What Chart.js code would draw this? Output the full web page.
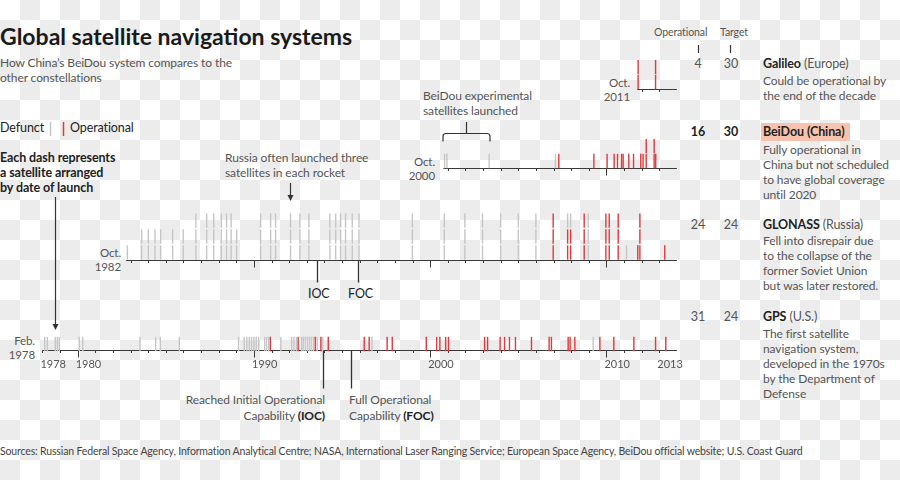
<!DOCTYPE html>
<html>
<head>
<meta charset="utf-8">
<script src="https://cdn.jsdelivr.net/npm/chart.js@4.4.1/dist/chart.umd.min.js"></script>
<style>
  html, body { margin: 0; padding: 0; }
  body {
    width: 900px; height: 480px; position: relative; overflow: hidden;
    font-family: Lato, "Open Sans", sans-serif; color: #555;
    background-color: #fff;
    background-image: conic-gradient(#ececec 25%, transparent 0 50%, #ececec 0 75%, transparent 0);
    background-size: 40px 40px;
  }
  .t { position: absolute; white-space: nowrap; font-size: 12px; line-height: 15px; letter-spacing: -0.1px; }
  .dark { color: #222; }
  .r { text-align: right; }
  .num { position: absolute; width: 30px; text-align: center; font-size: 12.5px; line-height: 15px; }
  canvas { position: absolute; left: 0; }
  svg { position: absolute; left: 0; top: 0; }
</style>
</head>
<body>

<div class="t dark" style="left:0;top:21px;font-size:23px;line-height:30px;font-weight:bold;color:#1a1a1a;letter-spacing:0">Global satellite navigation systems</div>
<div class="t" style="left:0;top:55px">How China’s BeiDou system compares to the<br>other constellations</div>

<div class="t dark" style="left:0;top:120px;font-size:12.5px">Defunct</div>
<div class="t dark" style="left:70px;top:120px;font-size:12.5px">Operational</div>

<div class="t dark" style="left:0;top:150px;font-weight:bold;font-size:12.5px">Each dash represents<br>a satellite arranged<br>by date of launch</div>
<div class="t" style="left:225px;top:150px">Russia often launched three<br>satellites in each rocket</div>
<div class="t" style="left:423px;top:88px">BeiDou experimental<br>satellites launched</div>

<div class="t r" style="right:865px;top:334px;font-size:11.5px;line-height:14px">Feb.<br>1978</div>
<div class="t r" style="right:779px;top:246px;font-size:11.5px;line-height:14px">Oct.<br>1982</div>
<div class="t r" style="right:465px;top:155px;font-size:11.5px;line-height:14px">Oct.<br>2000</div>
<div class="t r" style="right:270px;top:76px;font-size:11.5px;line-height:14px">Oct.<br>2011</div>

<div class="t dark" style="left:308px;top:286px;font-size:12.5px">IOC</div>
<div class="t dark" style="left:348px;top:286px;font-size:12.5px">FOC</div>
<div class="t r" style="right:575px;top:392px;line-height:15.5px">Reached Initial Operational<br>Capability <b class="dark">(IOC)</b></div>
<div class="t" style="left:349px;top:392px;line-height:15.5px">Full Operational<br>Capability <b class="dark">(FOC)</b></div>

<div class="t" style="left:654px;top:25px;font-size:10.5px">Operational</div>
<div class="t" style="left:720px;top:25px;font-size:10.5px">Target</div>

<div class="num" style="left:683px;top:56px">4</div>
<div class="num" style="left:716px;top:56px">30</div>
<div class="num dark" style="left:683px;top:124px;font-weight:bold">16</div>
<div class="num dark" style="left:716px;top:124px;font-weight:bold">30</div>
<div class="num" style="left:683px;top:217px">24</div>
<div class="num" style="left:716px;top:217px">24</div>
<div class="num" style="left:683px;top:309px">31</div>
<div class="num" style="left:716px;top:309px">24</div>

<div class="t" style="left:763px;top:56px;font-size:12.5px"><b class="dark">Galileo</b> (Europe)</div>
<div class="t" style="left:763px;top:73px">Could be operational by<br>the end of the decade</div>
<div class="t dark" style="left:761px;top:123px;width:89px;height:18px;background:#f7c3ae"></div>
<div class="t dark" style="left:763px;top:124px;font-weight:bold;font-size:12.5px">BeiDou (China)</div>
<div class="t" style="left:763px;top:142px">Fully operational in<br>China but not scheduled<br>to have global coverage<br>until 2020</div>
<div class="t" style="left:763px;top:217px;font-size:12.5px"><b class="dark">GLONASS</b> (Russia)</div>
<div class="t" style="left:763px;top:233px">Fell into disrepair due<br>to the collapse of the<br>former Soviet Union<br>but was later restored.</div>
<div class="t" style="left:763px;top:309px;font-size:12.5px"><b class="dark">GPS</b> (U.S.)</div>
<div class="t" style="left:763px;top:326px">The first satellite<br>navigation system,<br>developed in the 1970s<br>by the Department of<br>Defense</div>

<div class="t" style="left:0;top:444px;font-size:10.5px;letter-spacing:-0.15px;color:#444">Sources: Russian Federal Space Agency, Information Analytical Centre; NASA, International Laser Ranging Service; European Space Agency, BeiDou official website; U.S. Coast Guard</div>

<canvas id="galileo"></canvas>
<canvas id="beidou"></canvas>
<canvas id="glonass"></canvas>
<canvas id="gps"></canvas>

<svg width="900" height="480">
  <line x1="50.5" y1="122" x2="50.5" y2="136" stroke="#c6c6c6" stroke-width="1.5"/>
  <line x1="63.5" y1="122" x2="63.5" y2="136" stroke="#e0393e" stroke-width="1.5"/>
  <line x1="55.5" y1="197" x2="55.5" y2="326" stroke="#333" stroke-width="1.2"/>
  <path d="M52.5,324 L58.5,324 L55.5,330 Z" fill="#333"/>
  <line x1="290.5" y1="183" x2="290.5" y2="196" stroke="#333" stroke-width="1.2"/>
  <path d="M287.5,195 L293.5,195 L290.5,201 Z" fill="#333"/>
  <path d="M443,141.5 L443,136.5 Q443,133.5 446,133.5 L487,133.5 Q490,133.5 490,136.5 L490,141.5 M466.5,133.5 L466.5,122" fill="none" stroke="#333" stroke-width="1.2"/>
  <line x1="698.5" y1="45" x2="698.5" y2="53" stroke="#333" stroke-width="1.2"/>
  <line x1="730.5" y1="45" x2="730.5" y2="53" stroke="#333" stroke-width="1.2"/>
</svg>

<script>
// launch dates (decimal years), satellites per launch, satellites still operational
const gpsDates = [1978.13, 1978.28, 1978.73, 1978.85, 1978.96, 1980.09, 1980.29, 1983.54, 1984.43, 1984.69,
  1985.77, 1989.13, 1989.45, 1989.60, 1989.74, 1989.87, 1990.00, 1990.13, 1990.27, 1990.61,
  1990.72, 1990.84, 1990.93, 1991.53, 1992.14, 1992.27, 1992.42, 1992.51, 1992.71, 1992.80,
  1992.91, 1993.03, 1993.14, 1993.25, 1993.37, 1993.48, 1993.59, 1993.80, 1993.90, 1994.22,
  1996.26, 1996.54, 1996.70, 1997.56, 1997.85, 1999.78, 2000.37, 2000.55, 2000.88, 2001.04,
  2003.09, 2003.26, 2003.97, 2004.22, 2004.50, 2004.84, 2005.75, 2006.75, 2006.88, 2007.83,
  2007.94, 2008.21, 2009.25, 2009.63, 2010.42, 2011.56, 2012.79, 2013.37];
const gpsOper = [0, 0, 0, 0, 0, 0, 0, 0, 0, 0,
  0, 0, 0, 0, 0, 0, 0, 0, 0, 0,
  0, 0, 1, 0, 0, 0, 0, 1, 0, 0,
  0, 0, 0, 0, 0, 1, 0, 1, 0, 1,
  1, 1, 0, 1, 1, 1, 1, 1, 1, 1,
  1, 1, 1, 1, 1, 1, 1, 1, 1, 1,
  1, 1, 0, 1, 1, 1, 1, 1];

const glonassDates = [1982.82, 1983.63, 1984.01, 1984.39, 1984.71, 1985.39, 1985.99, 1986.71, 1987.32, 1987.72,
  1988.15, 1988.45, 1988.71, 1989.02, 1990.38, 1990.95, 1991.23, 1992.08, 1992.61, 1993.12,
  1994.31, 1994.64, 1994.92, 1995.20, 1995.58, 1995.96, 1998.99, 2000.80, 2001.97, 2002.97,
  2004.00, 2005.00, 2006.00, 2006.98, 2007.80, 2007.97, 2008.74, 2008.97, 2009.97, 2010.16,
  2010.67, 2011.14, 2011.78, 2011.90, 2013.31];
const glonassSats = [1, 2, 2, 2, 2, 2, 2, 3, 3, 3,
  3, 3, 3, 2, 3, 3, 3, 3, 3, 3,
  3, 3, 3, 3, 3, 3, 3, 3, 3, 3,
  3, 3, 3, 3, 3, 3, 3, 3, 3, 3,
  3, 1, 1, 3, 1];
const glonassOper = [0, 0, 0, 0, 0, 0, 0, 0, 0, 0,
  0, 0, 0, 0, 0, 0, 0, 0, 0, 0,
  0, 0, 0, 0, 0, 0, 0, 0, 0, 0,
  0, 0, 0, 3, 2, 2, 3, 0, 3, 3,
  3, 0, 1, 3, 1];

const beidouDates = [2000.82, 2000.95, 2003.35, 2007.11, 2007.30, 2009.29, 2010.04, 2010.44, 2010.63, 2010.86,
  2010.95, 2011.27, 2011.54, 2011.95, 2012.08, 2012.26, 2012.71, 2012.80];
const beidouSats = [1, 1, 1, 1, 1, 1, 1, 1, 1, 1, 1, 1, 1, 1, 1, 2, 2, 1];
const beidouOper = [0, 0, 0, 0, 1, 1, 1, 1, 1, 1, 1, 1, 1, 1, 1, 2, 2, 1];

const galileoDates = [2011.80, 2012.79];
const galileoSats = [2, 2];
const galileoOper = [2, 2];

// axis start dates and decade ticks
const axisStart = { gps: 1978.0, glonass: 1982.75, beidou: 2000.75, galileo: 2011.75 };
const axisEnd = 2014;
const gpsTickLabels = [1978, 1980, 1990, 2000, 2010, 2013];
const glonassMilestones = [1993.6, 1995.9];  // IOC, FOC
const gpsMilestones = [1993.9, 1995.5];      // IOC, FOC

const GRAY = '#c6c6c6';
const RED = '#e0393e';
const PITCH = 17.5;

// shared year -> pixel mapping: 1978 at x=42.4, 2014 at x=676.9
const PAD_LEFT = 42.4;
const PAD_RIGHT = 900 - 676.9;

const timeAxis = {
  id: 'timeAxis',
  beforeDatasetsDraw(chart, args, opts) {
    const ctx = chart.ctx;
    const x = chart.scales.x;
    const y0 = chart.chartArea.bottom;
    ctx.save();
    ctx.strokeStyle = '#3a3a3a';
    ctx.lineWidth = 1.2;
    ctx.beginPath();
    ctx.moveTo(x.getPixelForValue(opts.start), y0);
    ctx.lineTo(x.getPixelForValue(axisEnd), y0);
    ctx.stroke();
    ctx.lineWidth = 1;
    for (let yr = Math.ceil(opts.start); yr < axisEnd; yr++) {
      const px = Math.round(x.getPixelForValue(yr)) + 0.5;
      const len = yr % 10 === 0 ? 7 : 2.5;
      ctx.beginPath();
      ctx.moveTo(px, y0);
      ctx.lineTo(px, y0 + len);
      ctx.stroke();
    }
    ctx.lineWidth = 1.3;
    ctx.strokeStyle = '#333';
    (opts.milestones || []).forEach(d => {
      const px = Math.round(x.getPixelForValue(d)) + 0.5;
      ctx.beginPath();
      ctx.moveTo(px, y0);
      ctx.lineTo(px, y0 + opts.leader);
      ctx.stroke();
    });
    if (opts.labels) {
      ctx.font = '11px Lato, sans-serif';
      ctx.fillStyle = '#555';
      ctx.textAlign = 'left';
      ctx.textBaseline = 'middle';
      opts.labels.forEach(yr => ctx.fillText(String(yr), x.getPixelForValue(yr) - 2, y0 + 14));
    }
    ctx.restore();
  }
};

function dashSets(dates, sats, oper) {
  const gray = [], red = [];
  dates.forEach((d, i) => {
    const n = sats ? sats[i] : 1;
    for (let t = 0; t < n; t++) {
      (t < oper[i] ? red : gray).push({ x: d, y: t + 0.5 });
    }
  });
  const style = c => ({
    pointStyle: 'line', rotation: 90, radius: 7.2, borderWidth: 1.4,
    borderColor: c, backgroundColor: c, showLine: false, clip: false
  });
  return [Object.assign({ data: gray }, style(GRAY)), Object.assign({ data: red }, style(RED))];
}

function makeRow(id, baseline, tiers, datasets, axisOpts) {
  const canvas = document.getElementById(id);
  const top = Math.round(baseline - tiers * PITCH - 4);
  const padTop = baseline - tiers * PITCH - top;
  const height = Math.ceil(baseline - top + 42);
  canvas.width = 900;
  canvas.height = height;
  canvas.style.top = top + 'px';
  new Chart(canvas, {
    type: 'scatter',
    data: { datasets: datasets },
    options: {
      responsive: false,
      animation: false,
      events: [],
      layout: { padding: { left: PAD_LEFT, right: PAD_RIGHT, top: padTop, bottom: height - (baseline - top) } },
      scales: {
        x: { type: 'linear', min: 1978, max: axisEnd, display: false },
        y: { type: 'linear', min: 0, max: tiers, display: false }
      },
      plugins: { legend: { display: false }, tooltip: { enabled: false }, timeAxis: axisOpts }
    },
    plugins: [timeAxis]
  });
}

makeRow('galileo', 89.5, 2, dashSets(galileoDates, galileoSats, galileoOper), { start: axisStart.galileo });
makeRow('beidou', 168.5, 2, dashSets(beidouDates, beidouSats, beidouOper), { start: axisStart.beidou });
makeRow('glonass', 260.5, 3, dashSets(glonassDates, glonassSats, glonassOper),
  { start: axisStart.glonass, milestones: glonassMilestones, leader: 22 });
makeRow('gps', 350.5, 1, dashSets(gpsDates, null, gpsOper),
  { start: axisStart.gps, labels: gpsTickLabels, milestones: gpsMilestones, leader: 38 });
</script>
</body>
</html>
